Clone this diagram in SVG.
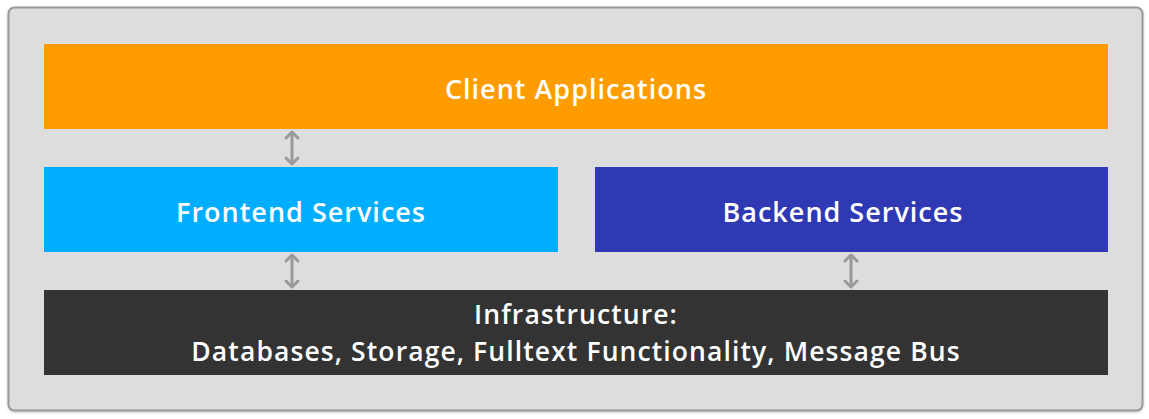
<svg xmlns="http://www.w3.org/2000/svg" width="1149" height="419" viewBox="0 0 1149 419">
  <defs>
    <filter id="shadow" x="-5%" y="-5%" width="110%" height="110%">
      <feDropShadow dx="0" dy="1" stdDeviation="1.2" flood-color="#000" flood-opacity="0.25"/>
    </filter>
    <!-- double-headed vertical arrow, 36px tall, centred on x=0 -->
    <g id="dbl-arrow">
      <line x1="0" y1="2" x2="0" y2="34" stroke="#999999" stroke-width="3"/>
      <polyline points="-6,8 0,2 6,8" fill="none" stroke="#999999" stroke-width="3" stroke-linecap="round" stroke-linejoin="round"/>
      <polyline points="-6,28 0,34 6,28" fill="none" stroke="#999999" stroke-width="3" stroke-linecap="round" stroke-linejoin="round"/>
    </g>
  </defs>
  <style>
    .lbl { font-family: "Open Sans", "Liberation Sans", sans-serif; font-weight: 600; font-size: 27px; letter-spacing: 1px; fill: #ffffff; text-anchor: middle; dominant-baseline: central; }
    .two { font-size: 26.5px; letter-spacing: 1.1px; }
  </style>
  <rect width="1149" height="419" fill="#ffffff"/>
  <rect x="8.5" y="7.5" width="1134" height="403" rx="6" fill="#dddddd" stroke="#999999" stroke-width="2" filter="url(#shadow)"/>

  <g id="client">
    <rect x="44" y="44" width="1064" height="85" fill="#ff9c00"/>
    <text class="lbl" x="576" y="88">Client Applications</text>
  </g>
  <g id="frontend">
    <rect x="44" y="167" width="514" height="85" fill="#00aeff"/>
    <text class="lbl" x="301" y="211">Frontend Services</text>
  </g>
  <g id="backend">
    <rect x="595" y="167" width="513" height="85" fill="#2e39b3"/>
    <text class="lbl" x="843" y="211">Backend Services</text>
  </g>
  <g id="infrastructure">
    <rect x="44" y="290" width="1064" height="85" fill="#333333"/>
    <text class="lbl two" x="576" y="314">Infrastructure:</text>
    <text class="lbl two" x="576" y="351">Databases, Storage, Fulltext Functionality, Message Bus</text>
  </g>

  <g id="connectors">
    <use href="#dbl-arrow" x="292" y="130"/>
    <use href="#dbl-arrow" x="292" y="253"/>
    <use href="#dbl-arrow" x="851" y="253"/>
  </g>
</svg>
